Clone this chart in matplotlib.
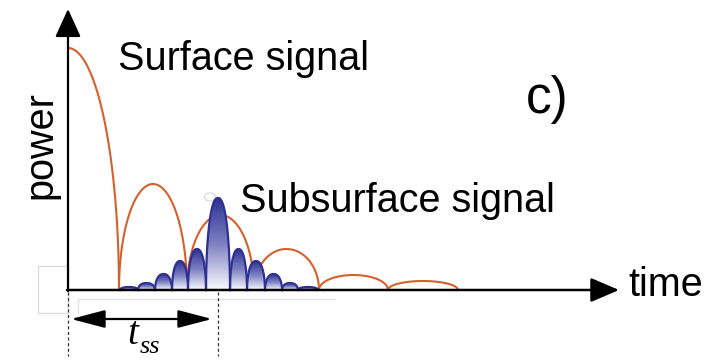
import numpy as np
import matplotlib
matplotlib.use("Agg")
import matplotlib.pyplot as plt
from matplotlib.patches import Polygon, Rectangle, Ellipse
from matplotlib.colors import LinearSegmentedColormap

# ---- data (schematic units: time, power) ----
surface_zeros = [51, 119, 186, 251, 320, 390]      # zero crossings of surface lobes
surface_heights = [242, 106, 75, 41, 15, 9]        # lobe peak heights (first is half-lobe at t=0)
sub_edges = [52, 70, 87, 104, 120, 138, 162, 179, 197, 214, 230, 250]
sub_heights = [3, 7, 16, 29, 41, 92, 41, 29, 16, 7, 3]
t_ss = 150

labels = {"surface": "Surface signal", "subsurface": "Subsurface signal",
          "panel": "c)", "x": "time", "y": "power"}

ORANGE = "#d6602c"
BLUE = "#2e3192"

fig = plt.figure(figsize=(7.25, 3.6), dpi=100)
ax = fig.add_axes([0, 0, 1, 1])
ax.axis("off")

# ---- surface signal lobes (orange arcs) ----
starts = [-surface_zeros[0]] + surface_zeros[:-1]
for a, b, h in zip(starts, surface_zeros, surface_heights):
    t = np.linspace(max(a, 0), b, 300)
    c = (a + b) / 2
    u = (t - c) / ((b - a) / 2)
    y = h * np.sqrt(np.clip(1 - u**2, 0, 1))
    ax.plot(t, y, color=ORANGE, lw=1.5, zorder=2, solid_capstyle="round")

# ---- subsurface lobes (blue, gradient filled) ----
cmap = LinearSegmentedColormap.from_list("bw", ["#fbfbff", "#7e82c2", BLUE])
for a, b, h in zip(sub_edges[:-1], sub_edges[1:], sub_heights):
    t = np.linspace(a, b, 300)
    c = (a + b) / 2
    u = (t - c) / ((b - a) / 2)
    y = h * np.clip(1 - np.abs(u)**2.3, 0, 1)**0.5
    verts = np.column_stack([np.r_[t, b, a], np.r_[y, 0, 0]])
    poly = Polygon(verts, closed=True, facecolor="none", edgecolor="none")
    ax.add_patch(poly)
    grad = np.linspace(0, 1, 256).reshape(-1, 1)
    im = ax.imshow(grad, extent=[a, b, 0, h], origin="lower", cmap=cmap,
                   aspect="auto", zorder=3, interpolation="bilinear")
    im.set_clip_path(poly)
    ax.plot(t, y, color=BLUE, lw=1.6, zorder=4)

ax.set_xlim(-68, 657)
ax.set_ylim(-70, 290)

# ---- faint artefacts ----
ax.add_patch(Rectangle((-30, -23), 30, 47, fill=False, ec="#dcdcdc", lw=1, zorder=0))
ax.plot([10, 10, 267], [-23, -9, -9], color="#e2e2e2", lw=1, zorder=0)
ax.add_patch(Ellipse((142, 93), 11, 8, fill=False, ec="#d8d8d8", lw=0.8, zorder=1))

# ---- axes arrows ----
ax.annotate("", xy=(0, 281), xytext=(0, -1),
            arrowprops=dict(arrowstyle="-|>,head_length=1.75,head_width=0.8",
                            mutation_scale=10, lw=1.6, color="black",
                            shrinkA=0, shrinkB=0), zorder=5)
ax.annotate("", xy=(551, 0), xytext=(-1, 0),
            arrowprops=dict(arrowstyle="-|>,head_length=1.75,head_width=0.75",
                            mutation_scale=10, lw=1.8, color="black",
                            shrinkA=0, shrinkB=0), zorder=5)

# ---- t_ss marker ----
for xv in [0, t_ss]:
    ax.plot([xv, xv], [-2, -66], color="#333344", lw=0.9, ls=(0, (2.5, 2)), zorder=1)
ax.annotate("", xy=(144, -29), xytext=(3, -29),
            arrowprops=dict(arrowstyle="<|-|>,head_length=2.1,head_width=0.55",
                            mutation_scale=10, lw=1.6, color="black",
                            shrinkA=0, shrinkB=0), zorder=5)
ax.text(59, -54, "t", family="Liberation Serif", style="italic", fontsize=28,
        ha="left", va="baseline")
ax.text(72, -63, "ss", family="Liberation Serif", style="italic", fontsize=19,
        ha="left", va="baseline")

# ---- labels ----
FS = 28.5
ax.text(50, 220, labels["surface"], family="Liberation Sans", fontsize=FS,
        ha="left", va="baseline")
ax.text(172, 78, labels["subsurface"], family="Liberation Sans", fontsize=FS,
        ha="left", va="baseline")
ax.text(458, 177, labels["panel"], family="Liberation Sans", fontsize=37,
        ha="left", va="baseline")
ax.text(560, -6, labels["x"], family="Liberation Sans", fontsize=FS,
        ha="left", va="baseline")
ax.text(-28, 145, labels["y"], family="Liberation Sans", fontsize=FS,
        rotation=90, ha="center", va="center")

fig.savefig("out.png", dpi=100)
